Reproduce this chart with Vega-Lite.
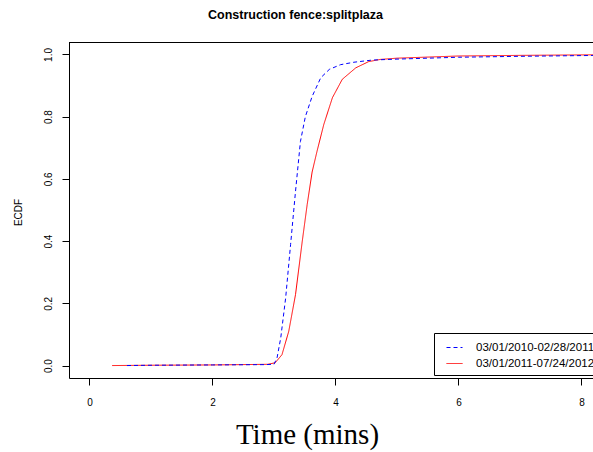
{
  "$schema": "https://vega.github.io/schema/vega-lite/v6.json",
  "width": 524,
  "height": 336,
  "autosize": {"type": "none"},
  "padding": {"left": 69, "top": 42, "right": 0, "bottom": 74},
  "background": "white",
  "config": {
    "view": {"stroke": null},
    "font": "Liberation Sans",
    "legend": {
      "orient": "none",
      "legendX": 365,
      "legendY": 291,
      "strokeColor": "black",
      "fillColor": "white",
      "padding": 6,
      "symbolType": "stroke",
      "symbolSize": 256,
      "symbolStrokeWidth": 1,
      "symbolOffset": 6,
      "labelFont": "Liberation Sans",
      "labelFontSize": 11.5,
      "labelColor": "black",
      "labelOffset": 13,
      "rowPadding": 2,
      "labelLimit": 0,
      "cornerRadius": 0
    }
  },
  "title": {
    "text": "Construction fence:splitplaza",
    "font": "Liberation Sans",
    "fontSize": 12.5,
    "fontWeight": "bold",
    "color": "black",
    "anchor": "middle",
    "frame": "group",
    "dx": -35.5,
    "baseline": "alphabetic",
    "offset": 11
  },
  "data": {
    "values": [
      {"period": "03/01/2011-07/24/2012", "time": 0.37, "ecdf": 0.0},
      {"period": "03/01/2011-07/24/2012", "time": 1.0, "ecdf": 0.001},
      {"period": "03/01/2011-07/24/2012", "time": 2.0, "ecdf": 0.002},
      {"period": "03/01/2011-07/24/2012", "time": 2.9, "ecdf": 0.004},
      {"period": "03/01/2011-07/24/2012", "time": 3.02, "ecdf": 0.009},
      {"period": "03/01/2011-07/24/2012", "time": 3.13, "ecdf": 0.035},
      {"period": "03/01/2011-07/24/2012", "time": 3.24, "ecdf": 0.11},
      {"period": "03/01/2011-07/24/2012", "time": 3.35, "ecdf": 0.228},
      {"period": "03/01/2011-07/24/2012", "time": 3.46, "ecdf": 0.4},
      {"period": "03/01/2011-07/24/2012", "time": 3.54, "ecdf": 0.518},
      {"period": "03/01/2011-07/24/2012", "time": 3.62, "ecdf": 0.622},
      {"period": "03/01/2011-07/24/2012", "time": 3.7, "ecdf": 0.689},
      {"period": "03/01/2011-07/24/2012", "time": 3.81, "ecdf": 0.775},
      {"period": "03/01/2011-07/24/2012", "time": 3.95, "ecdf": 0.861},
      {"period": "03/01/2011-07/24/2012", "time": 4.11, "ecdf": 0.92},
      {"period": "03/01/2011-07/24/2012", "time": 4.33, "ecdf": 0.957},
      {"period": "03/01/2011-07/24/2012", "time": 4.54, "ecdf": 0.977},
      {"period": "03/01/2011-07/24/2012", "time": 4.73, "ecdf": 0.984},
      {"period": "03/01/2011-07/24/2012", "time": 5.0, "ecdf": 0.988},
      {"period": "03/01/2011-07/24/2012", "time": 6.0, "ecdf": 0.995},
      {"period": "03/01/2011-07/24/2012", "time": 7.0, "ecdf": 0.997},
      {"period": "03/01/2011-07/24/2012", "time": 8.3, "ecdf": 0.999},
      {"period": "03/01/2010-02/28/2011", "time": 0.61, "ecdf": 0.0},
      {"period": "03/01/2010-02/28/2011", "time": 1.0, "ecdf": 0.001},
      {"period": "03/01/2010-02/28/2011", "time": 2.0, "ecdf": 0.002},
      {"period": "03/01/2010-02/28/2011", "time": 2.85, "ecdf": 0.003},
      {"period": "03/01/2010-02/28/2011", "time": 3.0, "ecdf": 0.004},
      {"period": "03/01/2010-02/28/2011", "time": 3.05, "ecdf": 0.025},
      {"period": "03/01/2010-02/28/2011", "time": 3.11, "ecdf": 0.089},
      {"period": "03/01/2010-02/28/2011", "time": 3.19, "ecdf": 0.218},
      {"period": "03/01/2010-02/28/2011", "time": 3.27, "ecdf": 0.389},
      {"period": "03/01/2010-02/28/2011", "time": 3.35, "ecdf": 0.56},
      {"period": "03/01/2010-02/28/2011", "time": 3.43, "ecdf": 0.72},
      {"period": "03/01/2010-02/28/2011", "time": 3.51, "ecdf": 0.8},
      {"period": "03/01/2010-02/28/2011", "time": 3.62, "ecdf": 0.865},
      {"period": "03/01/2010-02/28/2011", "time": 3.76, "ecdf": 0.925},
      {"period": "03/01/2010-02/28/2011", "time": 3.9, "ecdf": 0.952},
      {"period": "03/01/2010-02/28/2011", "time": 4.08, "ecdf": 0.967},
      {"period": "03/01/2010-02/28/2011", "time": 4.3, "ecdf": 0.975},
      {"period": "03/01/2010-02/28/2011", "time": 4.6, "ecdf": 0.982},
      {"period": "03/01/2010-02/28/2011", "time": 5.0, "ecdf": 0.985},
      {"period": "03/01/2010-02/28/2011", "time": 6.0, "ecdf": 0.991},
      {"period": "03/01/2010-02/28/2011", "time": 7.0, "ecdf": 0.994},
      {"period": "03/01/2010-02/28/2011", "time": 8.3, "ecdf": 0.997}
    ]
  },
  "layer": [
    {
      "mark": {"type": "line", "strokeWidth": 1, "clip": true},
      "encoding": {
        "x": {
          "field": "time",
          "type": "quantitative",
          "scale": {"domain": [-0.333, 8.187], "nice": false, "zero": false},
          "axis": {
            "values": [0, 2, 4, 6, 8],
            "grid": false,
            "domainColor": "black",
            "tickColor": "black",
            "tickSize": 7,
            "labelFont": "Liberation Sans",
            "labelFontSize": 10,
            "labelColor": "black",
            "labelBaseline": "alphabetic",
            "labelPadding": 20.7,
            "labelFlush": false,
            "title": "Time (mins)",
            "titleFont": "Liberation Serif",
            "titleFontSize": 29,
            "titleFontWeight": "normal",
            "titleColor": "black",
            "titleX": 238,
            "titleY": 65,
            "titleAlign": "center",
            "titleBaseline": "alphabetic"
          }
        },
        "y": {
          "field": "ecdf",
          "type": "quantitative",
          "scale": {"domain": [-0.04, 1.04], "nice": false, "zero": false},
          "axis": {
            "values": [0, 0.2, 0.4, 0.6, 0.8, 1],
            "format": ".1f",
            "grid": false,
            "domainColor": "black",
            "tickColor": "black",
            "tickSize": 7,
            "labelFont": "Liberation Sans",
            "labelFontSize": 10,
            "labelColor": "black",
            "labelAngle": 270,
            "labelAlign": "center",
            "labelBaseline": "alphabetic",
            "labelPadding": 11,
            "labelFlush": false,
            "title": "ECDF",
            "titleFont": "Liberation Sans",
            "titleFontSize": 10,
            "titleFontWeight": "normal",
            "titleColor": "black",
            "titleAngle": 270,
            "titleX": -47.3,
            "titleY": 170,
            "titleAlign": "center",
            "titleBaseline": "alphabetic"
          }
        },
        "color": {
          "field": "period",
          "type": "nominal",
          "scale": {"domain": ["03/01/2010-02/28/2011", "03/01/2011-07/24/2012"], "range": ["#0000FF", "#FF0000"]},
          "legend": {"title": null}
        },
        "strokeDash": {
          "field": "period",
          "type": "nominal",
          "scale": {"domain": ["03/01/2010-02/28/2011", "03/01/2011-07/24/2012"], "range": [[4, 3], [1, 0]]},
          "legend": {"title": null}
        }
      }
    },
    {
      "mark": {"type": "rule", "color": "black", "strokeWidth": 1, "yOffset": 0.5},
      "encoding": {"y": {"datum": 1.04}}
    }
  ]
}
